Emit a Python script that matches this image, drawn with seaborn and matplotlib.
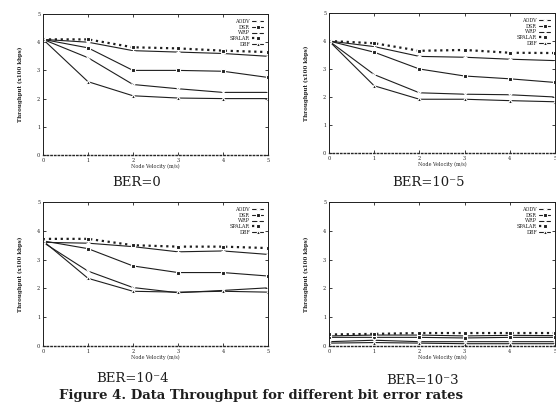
import numpy as np
import pandas as pd
import seaborn as sns
import matplotlib.pyplot as plt

# node velocity (m/s) on the x axis
velocity = [0, 1, 2, 3, 4, 5]
protocols = ["AODV", "DSR", "WRP", "SPALAR", "DBF"]

# throughput (x100 kbps), one row per protocol in the order above
ber_0 = [
    [4.10, 4.00, 3.70, 3.65, 3.60, 3.50],
    [4.10, 3.80, 3.00, 3.00, 2.97, 2.75],
    [4.10, 3.45, 2.50, 2.35, 2.22, 2.22],
    [4.10, 4.10, 3.82, 3.78, 3.70, 3.65],
    [4.10, 2.60, 2.10, 2.02, 2.00, 2.00],
]
ber_1e5 = [
    [4.00, 3.80, 3.45, 3.42, 3.35, 3.30],
    [4.00, 3.60, 3.00, 2.75, 2.65, 2.52],
    [4.00, 2.80, 2.15, 2.10, 2.08, 2.00],
    [4.00, 3.92, 3.65, 3.68, 3.58, 3.57],
    [4.00, 2.40, 1.92, 1.92, 1.87, 1.83],
]
ber_1e4 = [
    [3.60, 3.57, 3.45, 3.27, 3.30, 3.18],
    [3.65, 3.38, 2.78, 2.55, 2.55, 2.43],
    [3.60, 2.60, 2.03, 1.85, 1.93, 2.02],
    [3.72, 3.72, 3.50, 3.45, 3.45, 3.40],
    [3.65, 2.35, 1.90, 1.87, 1.90, 1.87],
]
ber_1e3 = [
    [0.35, 0.38, 0.38, 0.35, 0.37, 0.36],
    [0.30, 0.30, 0.30, 0.28, 0.30, 0.30],
    [0.15, 0.20, 0.15, 0.15, 0.15, 0.15],
    [0.40, 0.42, 0.45, 0.45, 0.45, 0.45],
    [0.10, 0.12, 0.10, 0.08, 0.08, 0.08],
]
captions = ["BER=0", "BER=10⁻5", "BER=10⁻4", "BER=10⁻3"]

sns.set_style("ticks")
plt.rcParams["font.family"] = ["DejaVu Serif"]

ink = "#1e1e1e"
markers = ["+", "s", "x", "s", "^"]
styles = ["-", "-", "-", ":", "-"]
widths = [0.8, 0.8, 0.8, 1.6, 0.8]

fig = plt.figure(figsize=(5.56, 4.04), dpi=100)

# axes boxes in pixels: left, top, right, bottom
boxes = [(43, 14, 268, 155), (329, 13, 555, 153),
         (43, 202, 268, 346), (329, 202, 555, 346)]
caption_pos = [(137, 183), (428, 183), (132, 378), (423, 381)]

for panel, data in enumerate([ber_0, ber_1e5, ber_1e4, ber_1e3]):
    l, t, r, b = boxes[panel]
    ax = fig.add_axes([l / 556, 1 - b / 404, (r - l) / 556, (b - t) / 404])
    df = pd.DataFrame({
        "velocity": velocity * len(protocols),
        "throughput": np.ravel(data),
        "protocol": np.repeat(protocols, len(velocity)),
    })
    for i, p in enumerate(protocols):
        sns.lineplot(data=df[df["protocol"] == p], x="velocity", y="throughput",
                     ax=ax, color=ink, linestyle=styles[i], linewidth=widths[i],
                     marker=markers[i], markersize=3, markeredgewidth=0.8,
                     label=p)
    ax.set_xlim(0, 5)
    ax.set_ylim(0, 5)
    ax.set_xticks(range(6))
    ax.set_yticks(range(6))
    ax.tick_params(direction="in", top=True, right=True, length=2.5,
                   width=0.6, labelsize=3.5, pad=2, colors=ink)
    for side in ["left", "right", "top"]:
        ax.spines[side].set_linewidth(0.7)
        ax.spines[side].set_color(ink)
    ax.spines["bottom"].set_linestyle(":")
    ax.spines["bottom"].set_linewidth(1.0)
    ax.set_xlabel("Node Velocity (m/s)", fontsize=3.5, labelpad=1)
    ax.set_ylabel("Throughput (x100 kbps)", fontsize=4, fontweight="bold",
                  labelpad=10)
    leg = ax.legend(loc="upper right", frameon=False, fontsize=3.5,
                    markerfirst=False, handlelength=2.2, handletextpad=0.5,
                    labelspacing=0.15, borderaxespad=0.6)
    for txt in leg.get_texts():
        txt.set_color(ink)
    cx, cy = caption_pos[panel]
    fig.text(cx / 556, 1 - cy / 404, captions[panel], ha="center",
             va="center", fontsize=9.5, color=ink)

fig.text(261 / 556, 1 - 396 / 404,
         "Figure 4. Data Throughput for different bit error rates",
         ha="center", va="center", fontsize=9.5, fontweight="bold", color=ink)

fig.savefig("out.png", dpi=100)
